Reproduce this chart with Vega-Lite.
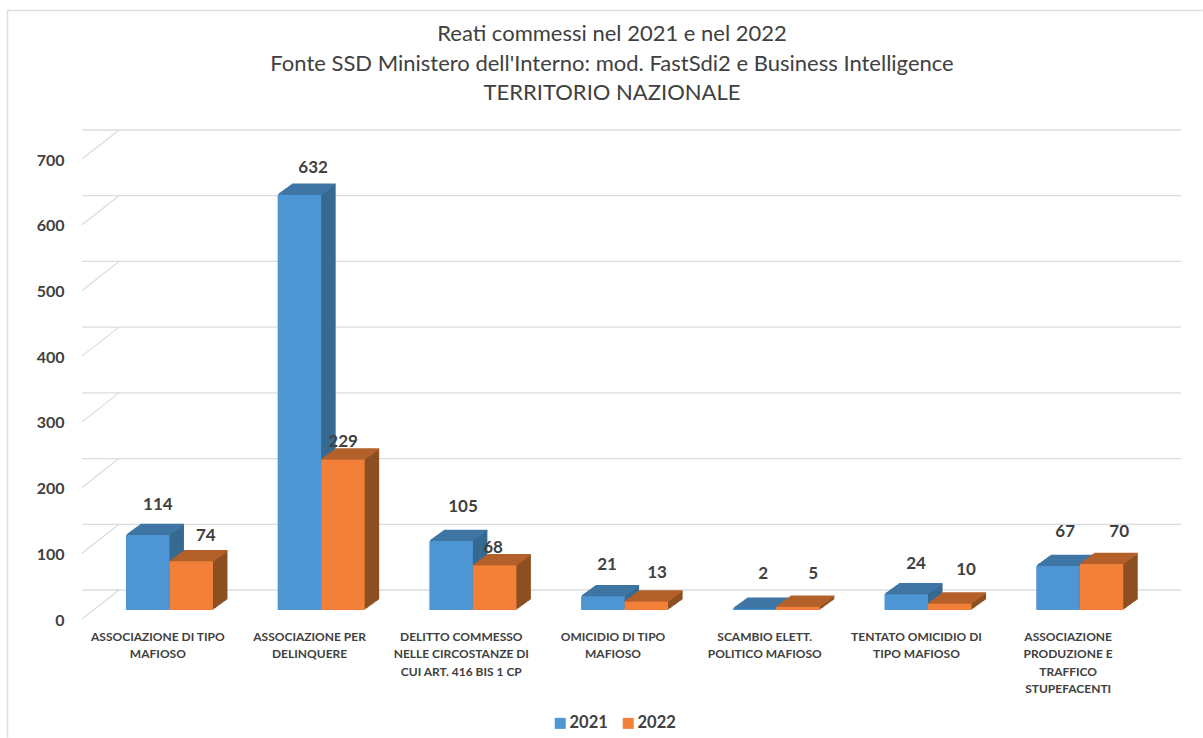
{
"$schema":"https://vega.github.io/schema/vega-lite/v6.json",
"autosize":"none","width":1062,"height":460,
"padding":{"left":82,"top":159,"right":59,"bottom":119},
"background":"white",
"config":{"view":{"stroke":null},"text":{"font":"Lato"}},
"title":{"text":["Reati commessi nel 2021 e nel 2022","Fonte SSD Ministero dell'Interno: mod. FastSdi2 e Business Intelligence","TERRITORIO NAZIONALE"],"font":"Lato","fontSize":22,"fontWeight":"normal","color":"#404040","lineHeight":29.5,"anchor":"middle","offset":-97.5,"dx":-1},
"datasets":{
"reati":[
{"categoria":"ASSOCIAZIONE DI TIPO|MAFIOSO","anno":"2021","reati":114},
{"categoria":"ASSOCIAZIONE DI TIPO|MAFIOSO","anno":"2022","reati":74},
{"categoria":"ASSOCIAZIONE PER|DELINQUERE","anno":"2021","reati":632},
{"categoria":"ASSOCIAZIONE PER|DELINQUERE","anno":"2022","reati":229},
{"categoria":"DELITTO COMMESSO|NELLE CIRCOSTANZE DI|CUI ART. 416 BIS 1 CP","anno":"2021","reati":105},
{"categoria":"DELITTO COMMESSO|NELLE CIRCOSTANZE DI|CUI ART. 416 BIS 1 CP","anno":"2022","reati":68},
{"categoria":"OMICIDIO DI TIPO|MAFIOSO","anno":"2021","reati":21},
{"categoria":"OMICIDIO DI TIPO|MAFIOSO","anno":"2022","reati":13},
{"categoria":"SCAMBIO ELETT.|POLITICO MAFIOSO","anno":"2021","reati":2},
{"categoria":"SCAMBIO ELETT.|POLITICO MAFIOSO","anno":"2022","reati":5},
{"categoria":"TENTATO OMICIDIO DI|TIPO MAFIOSO","anno":"2021","reati":24},
{"categoria":"TENTATO OMICIDIO DI|TIPO MAFIOSO","anno":"2022","reati":10},
{"categoria":"ASSOCIAZIONE|PRODUZIONE E|TRAFFICO|STUPEFACENTI","anno":"2021","reati":67},
{"categoria":"ASSOCIAZIONE|PRODUZIONE E|TRAFFICO|STUPEFACENTI","anno":"2022","reati":70}
],
"griglia":[{"livello":0},{"livello":100},{"livello":200},{"livello":300},{"livello":400},{"livello":500},{"livello":600},{"livello":700}]
},
"layer":[
{"data":{"values":[{"cornice":1}]},"mark":{"type":"point","shape":"M-1,0.576L-1,-0.625L0.974,-0.625","size":1466521,"filled":false,"stroke":"#dedede","strokeWidth":1.5,"opacity":1},"encoding":{}},
{"data":{"name":"griglia"},"mark":{"type":"rule","stroke":"#dcdcdc","strokeWidth":1.3,"xOffset":37,"x2Offset":37,"yOffset":-29},
 "encoding":{"y":{"field":"livello","type":"quantitative","scale":{"domain":[0,700],"nice":false},"axis":{"values":[0,100,200,300,400,500,600,700],"title":null,"domain":false,"ticks":false,"grid":false,"labelFont":"Lato","labelFontSize":16,"labelFontWeight":"bold","labelColor":"#404040","labelPadding":18,"labelOffset":1}}}},
{"data":{"name":"griglia"},"mark":{"type":"point","shape":"M-1,0.784L1,-0.784","size":1369,"filled":false,"stroke":"#dcdcdc","strokeWidth":1.2,"opacity":1,"xOffset":-512.5,"yOffset":-14.5},
 "encoding":{"y":{"field":"livello","type":"quantitative"}}},
{"data":{"name":"reati"},
 "encoding":{
  "x":{"field":"categoria","type":"nominal","sort":null,"scale":{"paddingInner":0.427,"paddingOuter":0.2135},"axis":{"title":null,"domain":false,"ticks":false,"labelAngle":0,"labelAlign":"center","labelBaseline":"top","labelExpr":"split(datum.label,'|')","labelFont":"Lato","labelFontSize":12,"labelFontWeight":"bold","labelColor":"#404040","labelLineHeight":17.5,"labelPadding":12,"labelLimit":200}},
  "y":{"field":"reati","type":"quantitative"}
 },
 "layer":[
 {"transform":[{"filter":"datum.anno==='2021'"}],
  "layer":[
  {"mark":{"type":"bar","size":43.5,"color":"#376A91","xOffset":4.35,"yOffset":-19.5,"y2Offset":-19.5}},
  {"mark":{"type":"bar","size":43.5,"color":"#376A91","xOffset":3.38,"yOffset":-18.8,"y2Offset":-18.8}},
  {"mark":{"type":"bar","size":43.5,"color":"#376A91","xOffset":2.42,"yOffset":-18.1,"y2Offset":-18.1}},
  {"mark":{"type":"bar","size":43.5,"color":"#376A91","xOffset":1.45,"yOffset":-17.4,"y2Offset":-17.4}},
  {"mark":{"type":"bar","size":43.5,"color":"#376A91","xOffset":0.48,"yOffset":-16.7,"y2Offset":-16.7}},
  {"mark":{"type":"bar","size":43.5,"color":"#376A91","xOffset":-0.48,"yOffset":-16,"y2Offset":-16}},
  {"mark":{"type":"bar","size":43.5,"color":"#376A91","xOffset":-1.45,"yOffset":-15.3,"y2Offset":-15.3}},
  {"mark":{"type":"bar","size":43.5,"color":"#376A91","xOffset":-2.42,"yOffset":-14.6,"y2Offset":-14.6}},
  {"mark":{"type":"bar","size":43.5,"color":"#376A91","xOffset":-3.38,"yOffset":-13.9,"y2Offset":-13.9}},
  {"mark":{"type":"bar","size":43.5,"color":"#376A91","xOffset":-4.35,"yOffset":-13.2,"y2Offset":-13.2}},
  {"mark":{"type":"bar","size":43.5,"color":"#376A91","xOffset":-5.32,"yOffset":-12.5,"y2Offset":-12.5}},
  {"mark":{"type":"bar","size":43.5,"color":"#376A91","xOffset":-6.28,"yOffset":-11.8,"y2Offset":-11.8}},
  {"mark":{"type":"bar","size":43.5,"color":"#376A91","xOffset":-7.25,"yOffset":-11.1,"y2Offset":-11.1}},
  {"mark":{"type":"bar","size":43.5,"color":"#376A91","xOffset":-8.22,"yOffset":-10.4,"y2Offset":-10.4}},
  {"mark":{"type":"bar","size":43.5,"color":"#376A91","xOffset":-9.18,"yOffset":-9.7,"y2Offset":-9.7}},
  {"mark":{"type":"tick","orient":"horizontal","size":43.5,"thickness":1.5,"color":"#3F76A4","opacity":1,"xOffset":4.35,"yOffset":-19.5}},
  {"mark":{"type":"tick","orient":"horizontal","size":43.5,"thickness":1.5,"color":"#3F76A4","opacity":1,"xOffset":3.38,"yOffset":-18.8}},
  {"mark":{"type":"tick","orient":"horizontal","size":43.5,"thickness":1.5,"color":"#3F76A4","opacity":1,"xOffset":2.42,"yOffset":-18.1}},
  {"mark":{"type":"tick","orient":"horizontal","size":43.5,"thickness":1.5,"color":"#3F76A4","opacity":1,"xOffset":1.45,"yOffset":-17.4}},
  {"mark":{"type":"tick","orient":"horizontal","size":43.5,"thickness":1.5,"color":"#3F76A4","opacity":1,"xOffset":0.48,"yOffset":-16.7}},
  {"mark":{"type":"tick","orient":"horizontal","size":43.5,"thickness":1.5,"color":"#3F76A4","opacity":1,"xOffset":-0.48,"yOffset":-16}},
  {"mark":{"type":"tick","orient":"horizontal","size":43.5,"thickness":1.5,"color":"#3F76A4","opacity":1,"xOffset":-1.45,"yOffset":-15.3}},
  {"mark":{"type":"tick","orient":"horizontal","size":43.5,"thickness":1.5,"color":"#3F76A4","opacity":1,"xOffset":-2.42,"yOffset":-14.6}},
  {"mark":{"type":"tick","orient":"horizontal","size":43.5,"thickness":1.5,"color":"#3F76A4","opacity":1,"xOffset":-3.38,"yOffset":-13.9}},
  {"mark":{"type":"tick","orient":"horizontal","size":43.5,"thickness":1.5,"color":"#3F76A4","opacity":1,"xOffset":-4.35,"yOffset":-13.2}},
  {"mark":{"type":"tick","orient":"horizontal","size":43.5,"thickness":1.5,"color":"#3F76A4","opacity":1,"xOffset":-5.32,"yOffset":-12.5}},
  {"mark":{"type":"tick","orient":"horizontal","size":43.5,"thickness":1.5,"color":"#3F76A4","opacity":1,"xOffset":-6.28,"yOffset":-11.8}},
  {"mark":{"type":"tick","orient":"horizontal","size":43.5,"thickness":1.5,"color":"#3F76A4","opacity":1,"xOffset":-7.25,"yOffset":-11.1}},
  {"mark":{"type":"tick","orient":"horizontal","size":43.5,"thickness":1.5,"color":"#3F76A4","opacity":1,"xOffset":-8.22,"yOffset":-10.4}},
  {"mark":{"type":"tick","orient":"horizontal","size":43.5,"thickness":1.5,"color":"#3F76A4","opacity":1,"xOffset":-9.18,"yOffset":-9.7}},
  {"mark":{"type":"bar","size":43.5,"xOffset":-10.15,"yOffset":-9,"y2Offset":-9},"encoding":{"color":{"field":"anno","type":"nominal","scale":{"domain":["2021","2022"],"range":["#4E95D3","#F28039"]},"legend":{"title":null,"orient":"none","direction":"horizontal","legendX":470,"legendY":556,"symbolType":"square","symbolSize":121,"symbolStrokeWidth":0,"labelFont":"Lato","labelFontSize":16.5,"labelFontWeight":"bold","labelColor":"#404040","columnPadding":12,"labelOffset":1}}}}
  ]},
 {"transform":[{"filter":"datum.anno==='2022'"}],
  "layer":[
  {"mark":{"type":"bar","size":43.5,"color":"#8C5023","xOffset":47.85,"yOffset":-19.5,"y2Offset":-19.5}},
  {"mark":{"type":"bar","size":43.5,"color":"#8C5023","xOffset":46.88,"yOffset":-18.8,"y2Offset":-18.8}},
  {"mark":{"type":"bar","size":43.5,"color":"#8C5023","xOffset":45.92,"yOffset":-18.1,"y2Offset":-18.1}},
  {"mark":{"type":"bar","size":43.5,"color":"#8C5023","xOffset":44.95,"yOffset":-17.4,"y2Offset":-17.4}},
  {"mark":{"type":"bar","size":43.5,"color":"#8C5023","xOffset":43.98,"yOffset":-16.7,"y2Offset":-16.7}},
  {"mark":{"type":"bar","size":43.5,"color":"#8C5023","xOffset":43.02,"yOffset":-16,"y2Offset":-16}},
  {"mark":{"type":"bar","size":43.5,"color":"#8C5023","xOffset":42.05,"yOffset":-15.3,"y2Offset":-15.3}},
  {"mark":{"type":"bar","size":43.5,"color":"#8C5023","xOffset":41.08,"yOffset":-14.6,"y2Offset":-14.6}},
  {"mark":{"type":"bar","size":43.5,"color":"#8C5023","xOffset":40.12,"yOffset":-13.9,"y2Offset":-13.9}},
  {"mark":{"type":"bar","size":43.5,"color":"#8C5023","xOffset":39.15,"yOffset":-13.2,"y2Offset":-13.2}},
  {"mark":{"type":"bar","size":43.5,"color":"#8C5023","xOffset":38.18,"yOffset":-12.5,"y2Offset":-12.5}},
  {"mark":{"type":"bar","size":43.5,"color":"#8C5023","xOffset":37.22,"yOffset":-11.8,"y2Offset":-11.8}},
  {"mark":{"type":"bar","size":43.5,"color":"#8C5023","xOffset":36.25,"yOffset":-11.1,"y2Offset":-11.1}},
  {"mark":{"type":"bar","size":43.5,"color":"#8C5023","xOffset":35.28,"yOffset":-10.4,"y2Offset":-10.4}},
  {"mark":{"type":"bar","size":43.5,"color":"#8C5023","xOffset":34.32,"yOffset":-9.7,"y2Offset":-9.7}},
  {"mark":{"type":"tick","orient":"horizontal","size":43.5,"thickness":1.5,"color":"#B5602B","opacity":1,"xOffset":47.85,"yOffset":-19.5}},
  {"mark":{"type":"tick","orient":"horizontal","size":43.5,"thickness":1.5,"color":"#B5602B","opacity":1,"xOffset":46.88,"yOffset":-18.8}},
  {"mark":{"type":"tick","orient":"horizontal","size":43.5,"thickness":1.5,"color":"#B5602B","opacity":1,"xOffset":45.92,"yOffset":-18.1}},
  {"mark":{"type":"tick","orient":"horizontal","size":43.5,"thickness":1.5,"color":"#B5602B","opacity":1,"xOffset":44.95,"yOffset":-17.4}},
  {"mark":{"type":"tick","orient":"horizontal","size":43.5,"thickness":1.5,"color":"#B5602B","opacity":1,"xOffset":43.98,"yOffset":-16.7}},
  {"mark":{"type":"tick","orient":"horizontal","size":43.5,"thickness":1.5,"color":"#B5602B","opacity":1,"xOffset":43.02,"yOffset":-16}},
  {"mark":{"type":"tick","orient":"horizontal","size":43.5,"thickness":1.5,"color":"#B5602B","opacity":1,"xOffset":42.05,"yOffset":-15.3}},
  {"mark":{"type":"tick","orient":"horizontal","size":43.5,"thickness":1.5,"color":"#B5602B","opacity":1,"xOffset":41.08,"yOffset":-14.6}},
  {"mark":{"type":"tick","orient":"horizontal","size":43.5,"thickness":1.5,"color":"#B5602B","opacity":1,"xOffset":40.12,"yOffset":-13.9}},
  {"mark":{"type":"tick","orient":"horizontal","size":43.5,"thickness":1.5,"color":"#B5602B","opacity":1,"xOffset":39.15,"yOffset":-13.2}},
  {"mark":{"type":"tick","orient":"horizontal","size":43.5,"thickness":1.5,"color":"#B5602B","opacity":1,"xOffset":38.18,"yOffset":-12.5}},
  {"mark":{"type":"tick","orient":"horizontal","size":43.5,"thickness":1.5,"color":"#B5602B","opacity":1,"xOffset":37.22,"yOffset":-11.8}},
  {"mark":{"type":"tick","orient":"horizontal","size":43.5,"thickness":1.5,"color":"#B5602B","opacity":1,"xOffset":36.25,"yOffset":-11.1}},
  {"mark":{"type":"tick","orient":"horizontal","size":43.5,"thickness":1.5,"color":"#B5602B","opacity":1,"xOffset":35.28,"yOffset":-10.4}},
  {"mark":{"type":"tick","orient":"horizontal","size":43.5,"thickness":1.5,"color":"#B5602B","opacity":1,"xOffset":34.32,"yOffset":-9.7}},
  {"mark":{"type":"bar","size":43.5,"xOffset":33.35,"yOffset":-9,"y2Offset":-9},"encoding":{"color":{"field":"anno","type":"nominal"}}}
  ]},
 {"encoding":{"text":{"field":"reati","type":"quantitative"}},
  "layer":[
  {"transform":[{"filter":"datum.reati===114"}],"mark":{"type":"text","fontSize":17,"fontWeight":"bold","color":"#404040","baseline":"middle","xOffset":0,"yOffset":-39}},
  {"transform":[{"filter":"datum.reati===74"}],"mark":{"type":"text","fontSize":17,"fontWeight":"bold","color":"#404040","baseline":"middle","xOffset":48,"yOffset":-34.4}},
  {"transform":[{"filter":"datum.reati===632"}],"mark":{"type":"text","fontSize":17,"fontWeight":"bold","color":"#404040","baseline":"middle","xOffset":3.5,"yOffset":-35.7}},
  {"transform":[{"filter":"datum.reati===229"}],"mark":{"type":"text","fontSize":17,"fontWeight":"bold","color":"#404040","baseline":"middle","xOffset":33.5,"yOffset":-26.5}},
  {"transform":[{"filter":"datum.reati===105"}],"mark":{"type":"text","fontSize":17,"fontWeight":"bold","color":"#404040","baseline":"middle","xOffset":1.75,"yOffset":-43}},
  {"transform":[{"filter":"datum.reati===68"}],"mark":{"type":"text","fontSize":17,"fontWeight":"bold","color":"#404040","baseline":"middle","xOffset":31.75,"yOffset":-26.3}},
  {"transform":[{"filter":"datum.reati===21"}],"mark":{"type":"text","fontSize":17,"fontWeight":"bold","color":"#404040","baseline":"middle","xOffset":-6,"yOffset":-40.2}},
  {"transform":[{"filter":"datum.reati===13"}],"mark":{"type":"text","fontSize":17,"fontWeight":"bold","color":"#404040","baseline":"middle","xOffset":44,"yOffset":-37.5}},
  {"transform":[{"filter":"datum.reati===2"}],"mark":{"type":"text","fontSize":17,"fontWeight":"bold","color":"#404040","baseline":"middle","xOffset":-1.65,"yOffset":-43.7}},
  {"transform":[{"filter":"datum.reati===5"}],"mark":{"type":"text","fontSize":17,"fontWeight":"bold","color":"#404040","baseline":"middle","xOffset":48.35,"yOffset":-41.7}},
  {"transform":[{"filter":"datum.reati===24"}],"mark":{"type":"text","fontSize":17,"fontWeight":"bold","color":"#404040","baseline":"middle","xOffset":-0.35,"yOffset":-39.2}},
  {"transform":[{"filter":"datum.reati===10"}],"mark":{"type":"text","fontSize":17,"fontWeight":"bold","color":"#404040","baseline":"middle","xOffset":49.65,"yOffset":-42.4}},
  {"transform":[{"filter":"datum.reati===67"}],"mark":{"type":"text","fontSize":17,"fontWeight":"bold","color":"#404040","baseline":"middle","xOffset":-3,"yOffset":-43}},
  {"transform":[{"filter":"datum.reati===70"}],"mark":{"type":"text","fontSize":17,"fontWeight":"bold","color":"#404040","baseline":"middle","xOffset":51,"yOffset":-41}}
  ]}
 ]}
]
}
